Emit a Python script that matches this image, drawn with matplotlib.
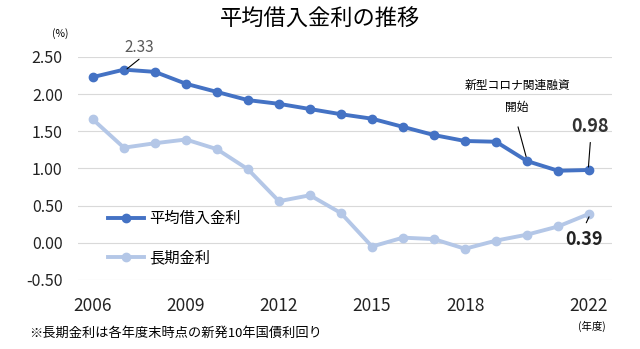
import matplotlib.pyplot as plt

plt.rcParams['font.family'] = ['Noto Sans CJK JP', 'DejaVu Sans']

years = list(range(2006, 2023))
avg_rate = [2.23, 2.33, 2.30, 2.14, 2.03, 1.92, 1.87, 1.80, 1.73, 1.67,
            1.56, 1.45, 1.37, 1.36, 1.10, 0.97, 0.98]
long_rate = [1.66, 1.28, 1.34, 1.39, 1.26, 0.99, 0.56, 0.64, 0.40, -0.05,
             0.07, 0.05, -0.08, 0.03, 0.11, 0.22, 0.39]
yticks = [-0.5, 0.0, 0.5, 1.0, 1.5, 2.0, 2.5]
xticks = [2006, 2009, 2012, 2015, 2018, 2022]

dark = '#4472C4'
light = '#B4C7E7'

fig = plt.figure(figsize=(6.4, 3.49), dpi=100)
ax = fig.add_axes([78 / 640, 69 / 349, 534 / 640, 223 / 349])

ax.plot(years, long_rate, color=light, lw=2.8, marker='o', ms=6, label='長期金利', clip_on=False)
ax.plot(years, avg_rate, color=dark, lw=2.8, marker='o', ms=6, label='平均借入金利', clip_on=False)

ax.set_xlim(2005.52, 2022.74)
ax.set_ylim(-0.5, 2.5)
ax.set_yticks(yticks)
ax.set_yticklabels(['%.2f' % v for v in yticks])
ax.set_xticks(xticks)
ax.set_xticklabels([str(y) for y in xticks])
ax.tick_params(length=0, colors='#222222')
ax.tick_params(axis='y', pad=11, labelsize=11.5)
ax.tick_params(axis='x', pad=12, labelsize=12.5)
ax.grid(axis='y', color='#d9d9d9', lw=0.8)
ax.set_axisbelow(True)
for s in ax.spines.values():
    s.set_visible(False)

# legend, reversed order so dark line is on top
h, l = ax.get_legend_handles_labels()
ax.legend(h[::-1], l[::-1], loc='lower left', bbox_to_anchor=(0.03, 0.0), frameon=False,
          fontsize=11, handlelength=2.4, labelspacing=1.45, handletextpad=0.3)

fig.text(0.5, 0.945, '平均借入金利の推移', ha='center', va='center', fontsize=16)
fig.text(0.094, 0.905, '(%)', ha='center', va='center', fontsize=7.5)
fig.text(0.925, 0.066, '(年度)', ha='center', va='center', fontsize=7.5)
fig.text(0.045, 0.046, '※長期金利は各年度末時点の新発10年国債利回り', ha='left', va='center', fontsize=9.5)

# annotation texts
ax.text(2007.49, 2.63, '2.33', ha='center', va='center', fontsize=11, color='#595959')
ax.text(2019.68, 2.12, '新型コロナ関連融資', ha='center', va='center', fontsize=8.5)
ax.text(2019.68, 1.815, '開始', ha='center', va='center', fontsize=8.5)
ax.text(2022.04, 1.57, '0.98', ha='center', va='center', fontsize=13, fontweight='bold', color='#333333')
ax.text(2021.84, 0.04, '0.39', ha='center', va='center', fontsize=13, fontweight='bold', color='#222222')

# leader lines
leaders = [((2007.49, 2.47), (2007.10, 2.34)),
           ((2019.71, 1.56), (2019.97, 1.16)),
           ((2022.04, 1.35), (2021.98, 1.02)),
           ((2021.91, 0.27), (2022.00, 0.35))]
for start, end in leaders:
    ax.annotate('', xy=end, xytext=start, annotation_clip=False,
                arrowprops=dict(arrowstyle='-', color='black', lw=0.8, shrinkA=0, shrinkB=0))

fig.savefig('out.png', dpi=100)
